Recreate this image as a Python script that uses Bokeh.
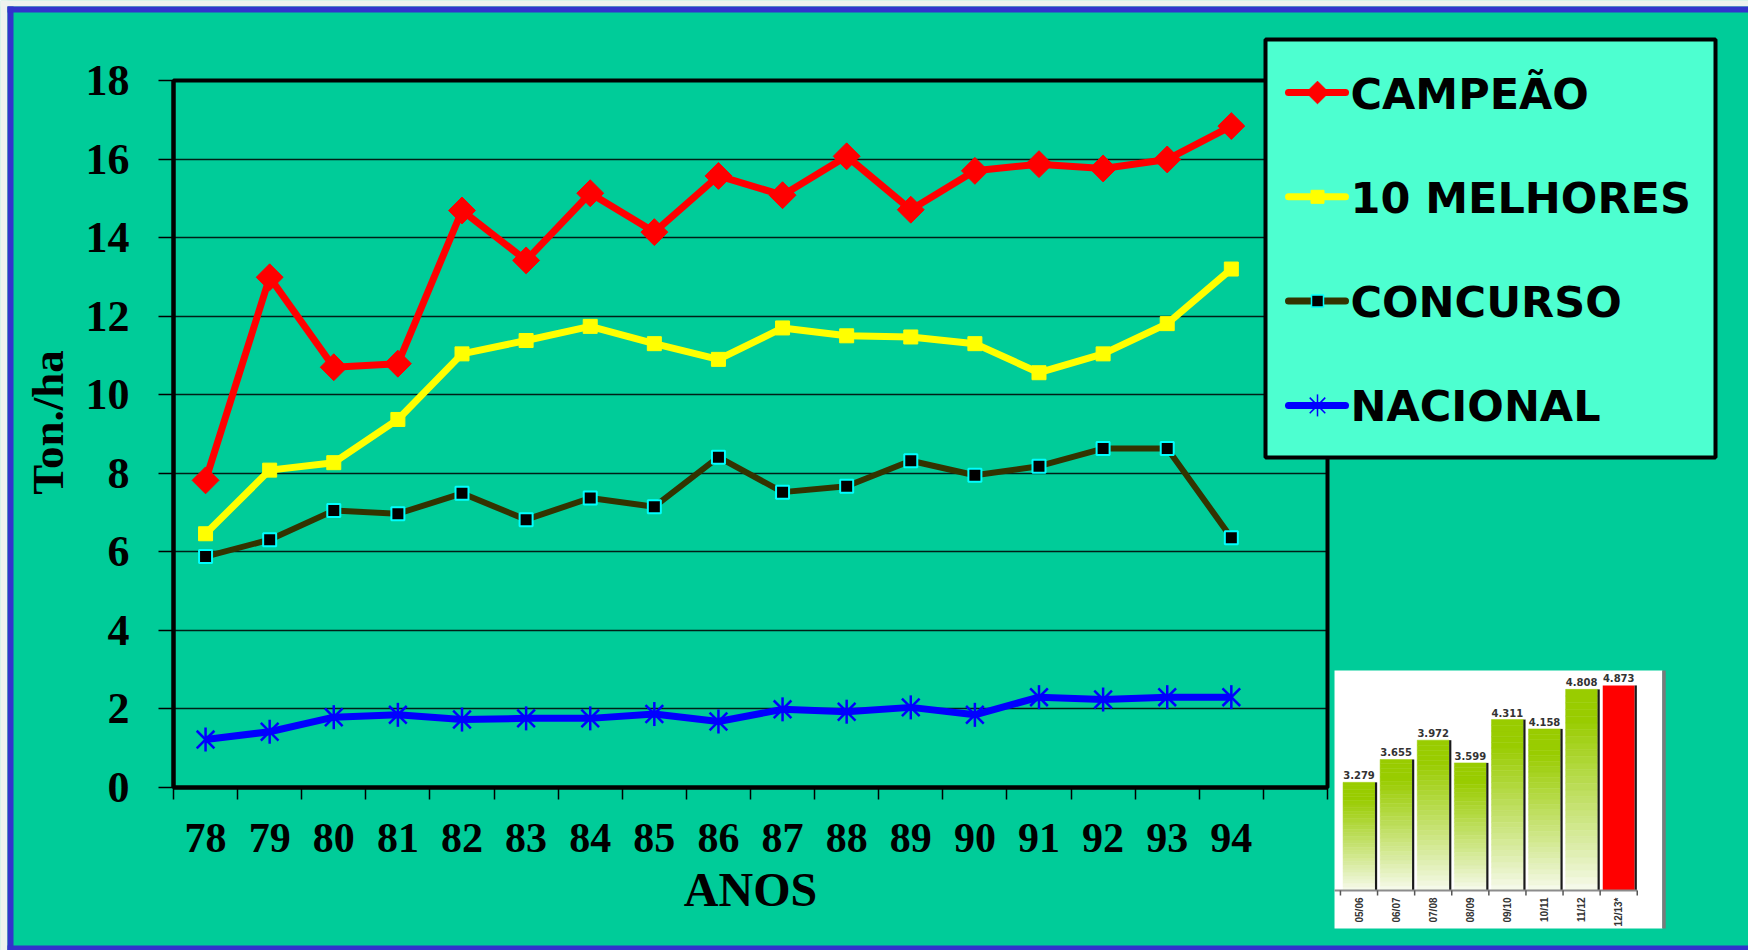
import numpy as np
from bokeh.plotting import figure
from bokeh.models import Range1d, FixedTicker, ColumnDataSource
from bokeh.core.properties import value
from bokeh.embed import file_html
from bokeh.resources import INLINE

# ---------------- data ----------------
years = [78, 79, 80, 81, 82, 83, 84, 85, 86, 87, 88, 89, 90, 91, 92, 93, 94]
year_labels = ["78", "79", "80", "81", "82", "83", "84", "85", "86", "87", "88", "89", "90", "91", "92", "93", "94"]
campeao = [7.82, 12.99, 10.70, 10.79, 14.69, 13.42, 15.13, 14.14, 15.57, 15.08, 16.07, 14.71, 15.70, 15.87, 15.76, 15.99, 16.84]
melhores = [6.46, 8.08, 8.27, 9.37, 11.04, 11.38, 11.74, 11.30, 10.90, 11.70, 11.50, 11.47, 11.30, 10.56, 11.04, 11.81, 13.20]
concurso = [5.88, 6.31, 7.05, 6.97, 7.49, 6.82, 7.37, 7.15, 8.41, 7.52, 7.67, 8.32, 7.95, 8.18, 8.63, 8.63, 6.36]
nacional = [1.22, 1.42, 1.79, 1.85, 1.73, 1.76, 1.76, 1.87, 1.68, 1.99, 1.93, 2.04, 1.85, 2.30, 2.24, 2.30, 2.30]
y_ticks = [0, 2, 4, 6, 8, 10, 12, 14, 16, 18]
y_title = "Ton./ha"
x_title = "ANOS"

series_names = ["CAMPEÃO", "10 MELHORES", "CONCURSO", "NACIONAL"]

inset_seasons = ["05/06", "06/07", "07/08", "08/09", "09/10", "10/11", "11/12", "12/13*"]
inset_values = [3.279, 3.655, 3.972, 3.599, 4.311, 4.158, 4.808, 4.873]
inset_value_labels = ["3.279", "3.655", "3.972", "3.599", "4.311", "4.158", "4.808", "4.873"]

# ---------------- layout / style ----------------
W, H = 1748, 950
FL, FR, FT, FB = 173, 1327, 80, 787          # frame edges in canvas px
TEAL = "#00CC99"
LEG_BG = "#4DFFD0"
SERIF = "Liberation Serif"
RED, YEL, OLIVE, BLUE, CYAN = "#FF0000", "#FFFF00", "#333300", "#0000FF", "#00FFFF"

p = figure(width=W, height=H, x_range=Range1d(77.5, 95.5), y_range=Range1d(0, 18),
           output_backend="svg", toolbar_location=None,
           min_border_left=FL, min_border_right=W - FR, min_border_top=FT, min_border_bottom=H - FB,
           background_fill_color=TEAL, border_fill_color=TEAL,
           outline_line_color="black", outline_line_width=4)

# x axis
xa = p.xaxis[0]
xa.ticker = FixedTicker(ticks=years,
                        minor_ticks=[years[0] - 0.5 + k for k in range(len(years) + 2)])
xa.major_label_overrides = {y: l for y, l in zip(years, year_labels)}
xa.major_tick_out = 0
xa.major_tick_in = 0
xa.minor_tick_out = 12
xa.minor_tick_in = 0
xa.minor_tick_line_color = "black"
xa.minor_tick_line_width = 1.5
xa.axis_line_color = "black"
xa.axis_line_width = 4
xa.major_label_text_font = SERIF
xa.major_label_text_font_style = "bold"
xa.major_label_text_font_size = "42px"
xa.major_label_text_color = "black"
xa.major_label_standoff = 24
xa.axis_label = x_title
xa.axis_label_text_font = SERIF
xa.axis_label_text_font_style = "bold"
xa.axis_label_text_font_size = "48px"
xa.axis_label_text_color = "black"
xa.axis_label_standoff = 8

# y axis
ya = p.yaxis[0]
ya.ticker = FixedTicker(ticks=y_ticks, minor_ticks=[])
ya.major_tick_out = 15
ya.major_tick_in = 0
ya.major_tick_line_color = "black"
ya.major_tick_line_width = 1.5
ya.minor_tick_line_color = None
ya.axis_line_color = "black"
ya.axis_line_width = 4
ya.major_label_text_font = SERIF
ya.major_label_text_font_style = "bold"
ya.major_label_text_font_size = "44px"
ya.major_label_text_color = "black"
ya.major_label_standoff = 29

p.xgrid.grid_line_color = None
p.ygrid.grid_line_color = "black"
p.ygrid.grid_line_width = 1.5
p.ygrid.grid_line_alpha = 0.85

# ---------------- main series ----------------
src = ColumnDataSource(dict(year=years, campeao=campeao, melhores=melhores,
                            concurso=concurso, nacional=nacional))

p.line("year", "nacional", source=src, line_color=BLUE, line_width=7)
p.scatter("year", "nacional", source=src, marker="x", size=25, line_color=BLUE, line_width=2.5)
p.scatter("year", "nacional", source=src, marker="dash", size=24, angle=np.pi / 2,
          line_color=BLUE, line_width=2.5)

p.line("year", "concurso", source=src, line_color=OLIVE, line_width=6)
p.scatter("year", "concurso", source=src, marker="square", size=13,
          fill_color="black", line_color=CYAN, line_width=2)

p.line("year", "melhores", source=src, line_color=YEL, line_width=7)
p.scatter("year", "melhores", source=src, marker="square", size=14, fill_color=YEL, line_color=YEL)

p.line("year", "campeao", source=src, line_color=RED, line_width=7)
p.scatter("year", "campeao", source=src, marker="square", size=19, angle=np.pi / 4,
          fill_color=RED, line_color=RED)

# ---------------- coordinate systems for decorations outside the frame ----------------
IX0, IDX = 1358.5, 37.1             # canvas x of first inset bar centre, px per bar
IY0, IDY, IBASE = 890.0, 60.8, 1.5  # canvas y of inset baseline, px per unit, baseline value
p.extra_x_ranges = {"ix": Range1d((FL - IX0) / IDX, (FR - IX0) / IDX),
                    "px": Range1d(FL, FR)}
p.extra_y_ranges = {"iy": Range1d(IBASE + (IY0 - FB) / IDY, IBASE + (IY0 - FT) / IDY),
                    "py": Range1d(FB, FT)}     # py: value == canvas pixel row
IK = dict(x_range_name="ix", y_range_name="iy", level="overlay")
PK = dict(x_range_name="px", y_range_name="py", level="overlay")

# y-axis title (placed like the original, slightly above the frame centre)
p.text(x=[47], y=[422], text=[y_title], angle=np.pi / 2,
       text_font=value(SERIF), text_font_style="bold", text_font_size="45px",
       text_color="black", text_align="center", text_baseline="middle", **PK)

# ---------------- legend ----------------
LEG_L, LEG_R, LEG_T, LEG_B = 1265, 1715, 39, 457
ROW0, ROWDY = 92, 104.3
GX0, GX1, GXM, TX = 1288, 1345, 1317, 1350
rows = [ROW0 + ROWDY * k for k in range(len(series_names))]

p.quad(left=[LEG_L], right=[LEG_R], top=[LEG_T], bottom=[LEG_B],
       fill_color=LEG_BG, line_color="black", line_width=4, **PK)
for k, col in enumerate([RED, YEL, OLIVE, BLUE]):
    p.segment(x0=[GX0], x1=[GX1], y0=[rows[k]], y1=[rows[k]], line_color=col,
              line_width=7, line_cap="round", **PK)
p.scatter(x=[GXM], y=[rows[0]], marker="square", size=16, angle=np.pi / 4,
          fill_color=RED, line_color=RED, **PK)
p.scatter(x=[GXM], y=[rows[1]], marker="square", size=13, fill_color=YEL, line_color=YEL, **PK)
p.scatter(x=[GXM], y=[rows[2]], marker="square", size=12, fill_color="black",
          line_color=CYAN, line_width=1.5, **PK)
p.scatter(x=[GXM], y=[rows[3]], marker="x", size=22, line_color=BLUE, line_width=1.5, **PK)
p.scatter(x=[GXM], y=[rows[3]], marker="dash", size=22, angle=np.pi / 2,
          line_color=BLUE, line_width=1.5, **PK)
p.text(x=[TX] * len(series_names), y=[r + 1 for r in rows], text=series_names,
       text_font=value("DejaVu Sans"), text_font_style="bold", text_font_size="43px",
       text_color="black", text_align="left", text_baseline="middle", **PK)

# ---------------- inset bar chart ----------------
n_bars = len(inset_values)
p.quad(left=[-0.66], right=[8.18], bottom=[IBASE - 38 / IDY], top=[IBASE + 220 / IDY],
       fill_color="white", line_color=None, **IK)

GREEN = (153, 204, 0)
WHITE = (248, 251, 240)


def mix(c1, c2, t):
    return "#%02x%02x%02x" % tuple(int(round(a + (b - a) * t)) for a, b in zip(c1, c2))


NS = 30
BW = 0.43
gl, gr, gb, gt, gc = [], [], [], [], []
for i, v in enumerate(inset_values):
    if i == n_bars - 1:
        continue
    for k in range(NS):
        y0 = IBASE + (v - IBASE) * k / NS
        y1 = IBASE + (v - IBASE) * (k + 1) / NS
        t = min(1.0, ((k + 0.5) / NS) / 0.85)
        gl.append(i - BW); gr.append(i + BW); gb.append(y0); gt.append(y1)
        gc.append(mix(WHITE, GREEN, t ** 0.9))
p.quad(left=gl, right=gr, bottom=gb, top=gt, fill_color=gc, line_color=gc, line_width=0.5, **IK)

last = n_bars - 1
p.quad(left=[last - BW], right=[last + BW], bottom=[IBASE], top=[inset_values[last]],
       fill_color=RED, line_color=None, **IK)

p.quad(left=[i + BW for i in range(n_bars)], right=[i + BW + 2.2 / IDX for i in range(n_bars)],
       bottom=[IBASE] * n_bars, top=inset_values, fill_color="#1a1a1a", line_color=None, **IK)

p.segment(x0=[-0.66], y0=[IBASE], x1=[n_bars - 0.5], y1=[IBASE], line_color="#8c8c8c",
          line_width=2, **IK)
p.segment(x0=[i + 0.5 for i in range(-1, n_bars)], y0=[IBASE] * (n_bars + 1),
          x1=[i + 0.5 for i in range(-1, n_bars)], y1=[IBASE - 5 / IDY] * (n_bars + 1),
          line_color="#555555", line_width=1.5, **IK)
p.segment(x0=[8.22], y0=[IBASE - 38 / IDY], x1=[8.22], y1=[IBASE + 220 / IDY],
          line_color="#7a7a7a", line_width=3.5, **IK)

p.text(x=list(range(n_bars)), y=[v + 3 / IDY for v in inset_values], text=inset_value_labels,
       text_font=value("DejaVu Sans"), text_font_style="bold", text_font_size="10px",
       text_color="#333333", text_align="center", text_baseline="bottom", **IK)
p.text(x=list(range(n_bars)), y=[IBASE - 7 / IDY] * n_bars, text=inset_seasons, angle=np.pi / 2,
       text_font=value("Liberation Sans"), text_font_style="bold", text_font_size="10px",
       text_color="#333333", text_align="right", text_baseline="middle", **IK)

# ---------------- page edge + blue border ----------------
p.quad(left=[0, 0], right=[7, W], top=[0, 0], bottom=[H, 6], fill_color="#EEF2EE",
       line_color=None, **PK)
p.quad(left=[7, 7, 7], right=[13, W, W], top=[6, 6, 945], bottom=[H, 12, H],
       fill_color="#3333CC", line_color=None, **PK)

open("out.html", "w").write(file_html(p, INLINE))
